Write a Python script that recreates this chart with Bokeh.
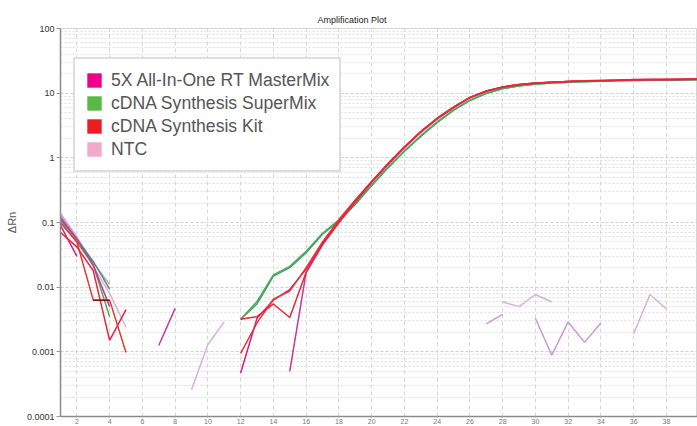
import math
from bokeh.plotting import figure
from bokeh.models import (ColumnDataSource, FixedTicker, Legend, LegendItem, Range1d,
                          CustomJSTickFormatter)
from bokeh.embed import file_html
from bokeh.resources import INLINE

# ---------------- data ----------------
cycles = list(range(1, 41))
x_ticks = list(range(2, 40, 2))
y_ticks = [0.0001, 0.001, 0.01, 0.1, 1, 10, 100]

legend_labels = ["5X All-In-One RT MasterMix", "cDNA Synthesis SuperMix", "cDNA Synthesis Kit", "NTC"]
legend_colors = ["#EC008C", "#5AB946", "#ED1C24", "#F2A9CB"]

# NTC traces (cycle: ΔRn)
ntc_a = {1: 0.14, 2: 0.06, 3: 0.021, 4: 0.008, 5: 0.0024,
         9: 0.00026, 10: 0.0013, 11: 0.0029,
         28: 0.0059, 29: 0.005, 30: 0.0077, 31: 0.0059,
         36: 0.0019, 37: 0.0077, 38: 0.0046}
ntc_b = {1: 0.13, 2: 0.058, 3: 0.024, 4: 0.011,
         27: 0.0027, 28: 0.0038,
         30: 0.0033, 31: 0.00089, 32: 0.0029, 33: 0.0014, 34: 0.0028}
ntc_c = {7: 0.00125, 8: 0.0047}

# cDNA Synthesis SuperMix replicates
sm_1 = {1: 0.11, 2: 0.055, 3: 0.025, 4: 0.0093,
        12: 0.0032, 13: 0.0055, 14: 0.0148, 15: 0.020, 16: 0.034, 17: 0.066, 18: 0.105,
        19: 0.19, 20: 0.37, 21: 0.70, 22: 1.25, 23: 2.15, 24: 3.5, 25: 5.4, 26: 7.7,
        27: 9.9, 28: 11.7, 29: 12.9, 30: 13.7, 31: 14.3, 32: 14.7, 33: 15.0, 34: 15.3,
        35: 15.5, 36: 15.7, 37: 15.8, 38: 15.9, 39: 16.0, 40: 16.1}
sm_2 = {1: 0.10, 2: 0.05, 3: 0.022, 4: 0.0035,
        12: 0.0032, 13: 0.006, 14: 0.0155, 15: 0.021, 16: 0.036, 17: 0.068, 18: 0.11,
        19: 0.20, 20: 0.38, 21: 0.72, 22: 1.28, 23: 2.2, 24: 3.6, 25: 5.5, 26: 7.8,
        27: 10.0, 28: 11.8, 29: 13.0, 30: 13.8, 31: 14.4, 32: 14.8, 33: 15.1, 34: 15.4,
        35: 15.6, 36: 15.8, 37: 15.9, 38: 16.0, 39: 16.1, 40: 16.2}

# 5X All-In-One RT MasterMix replicates
mm_1 = {1: 0.09, 2: 0.03,
        12: 0.00047, 13: 0.0033, 14: 0.0063, 15: 0.0092, 16: 0.019, 17: 0.048, 18: 0.11,
        19: 0.22, 20: 0.43, 21: 0.81, 22: 1.47, 23: 2.55, 24: 4.1, 25: 6.1, 26: 8.6,
        27: 10.8, 28: 12.5, 29: 13.6, 30: 14.3, 31: 14.8, 32: 15.2, 33: 15.5, 34: 15.7,
        35: 15.9, 36: 16.2, 37: 16.3, 38: 16.3, 39: 16.4, 40: 16.5}
mm_2 = {1: 0.12, 2: 0.055, 3: 0.022, 4: 0.005,
        15: 0.0005, 16: 0.017, 17: 0.045, 18: 0.10,
        19: 0.21, 20: 0.42, 21: 0.79, 22: 1.43, 23: 2.5, 24: 4.0, 25: 6.0, 26: 8.5,
        27: 10.7, 28: 12.4, 29: 13.5, 30: 14.2, 31: 14.7, 32: 15.1, 33: 15.4, 34: 15.6,
        35: 15.8, 36: 16.1, 37: 16.2, 38: 16.2, 39: 16.3, 40: 16.4}

# cDNA Synthesis Kit replicates
kit_1 = {1: 0.07, 2: 0.042, 3: 0.018, 4: 0.0015, 5: 0.0045,
         12: 0.0032, 13: 0.0035, 14: 0.0055, 15: 0.0034, 16: 0.017, 17: 0.046, 18: 0.10,
         19: 0.21, 20: 0.42, 21: 0.80, 22: 1.45, 23: 2.5, 24: 4.0, 25: 6.0, 26: 8.5,
         27: 10.7, 28: 12.4, 29: 13.5, 30: 14.2, 31: 14.7, 32: 15.1, 33: 15.4, 34: 15.6,
         35: 15.8, 36: 16.0, 37: 16.1, 38: 16.2, 39: 16.3, 40: 16.4}
kit_2 = {1: 0.10, 2: 0.05, 3: 0.0063, 4: 0.0063, 5: 0.00098,
         12: 0.00095, 13: 0.0028, 14: 0.0065, 15: 0.0087, 16: 0.020, 17: 0.05, 18: 0.11,
         19: 0.22, 20: 0.43, 21: 0.82, 22: 1.48, 23: 2.55, 24: 4.1, 25: 6.1, 26: 8.6,
         27: 10.8, 28: 12.5, 29: 13.6, 30: 14.3, 31: 14.8, 32: 15.2, 33: 15.5, 34: 15.7,
         35: 15.9, 36: 16.1, 37: 16.2, 38: 16.3, 39: 16.4, 40: 16.5}
kit_dark = {3: 0.0063, 4: 0.0063}

traces = [
    (ntc_a, "#d8aee0"), (ntc_b, "#c99ad3"), (ntc_c, "#c03aa6"),
    (sm_1, "#3f9e68"), (sm_2, "#4cab5c"),
    (mm_2, "#c8359f"), (mm_1, "#e0197f"),
    (kit_2, "#e23a2e"), (kit_1, "#ec2438"), (kit_dark, "#7a1414"),
]

# ---------------- figure ----------------
p = figure(width=697, height=426, x_range=Range1d(1, 39.9), y_range=Range1d(0.0001, 100),
           y_axis_type="log", output_backend="svg", toolbar_location=None,
           min_border_left=60, min_border_right=0, min_border_top=28, min_border_bottom=10,
           title="Amplification Plot")
p.background_fill_color = "white"
p.border_fill_color = "white"
p.outline_line_color = "#d4d4d4"

p.title.text_font = "Liberation Sans"
p.title.text_font_size = "9px"
p.title.text_font_style = "normal"
p.title.text_color = "#222222"
p.title.align = "left"
p.title.offset = 257
p.title.standoff = 8

N = float("nan")
for d, col in traces:
    ys = [d.get(c, N) for c in cycles]
    p.line(x=cycles, y=ys, line_color=col, line_width=1.5)

# axes
p.xaxis.ticker = FixedTicker(ticks=x_ticks, minor_ticks=[])
p.xaxis.major_label_text_font_size = "7px"
p.xaxis.major_label_text_color = "#777777"
p.xaxis.major_label_text_font = "Liberation Sans"
p.xaxis.major_tick_out = 1
p.xaxis.major_tick_in = 0
p.xaxis.major_label_standoff = 1
p.xaxis.axis_line_color = "#8a8a8a"
p.xaxis.axis_line_width = 1.5
p.xaxis.major_tick_line_color = "#aaaaaa"

minor = [k * 10.0 ** e for e in range(-4, 2) for k in range(2, 10)]
p.yaxis.ticker = FixedTicker(ticks=y_ticks, minor_ticks=minor)
p.yaxis.formatter = CustomJSTickFormatter(
    code="return tick >= 1 ? tick.toFixed(0) : tick.toPrecision(1);")
p.yaxis.major_label_text_font_size = "9px"
p.yaxis.major_label_text_color = "#333333"
p.yaxis.major_label_text_font = "Liberation Sans"
p.yaxis.major_tick_out = 4
p.yaxis.major_tick_in = 0
p.yaxis.minor_tick_line_color = None
p.yaxis.major_label_standoff = 2
p.yaxis.axis_line_color = "#8a8a8a"
p.yaxis.axis_line_width = 1.5
p.yaxis.major_tick_line_color = "#999999"
p.yaxis.axis_label = "ΔRn"
p.yaxis.axis_label_text_font = "Liberation Sans"
p.yaxis.axis_label_text_font_size = "11px"
p.yaxis.axis_label_text_font_style = "normal"
p.yaxis.axis_label_text_color = "#555555"
p.yaxis.axis_label_standoff = 6

# grids
p.xgrid.ticker = FixedTicker(ticks=x_ticks)
p.xgrid.grid_line_color = "#d6d6d6"
p.xgrid.grid_line_dash = "4 3"
p.ygrid.grid_line_color = "#cfcfcf"
p.ygrid.grid_line_dash = "3 2"
p.ygrid.minor_grid_line_color = "#dedede"
p.ygrid.minor_grid_line_dash = "2 2"

# legend (square swatches; swatch quads sit outside the visible range)
items = []
for lab, col in zip(legend_labels, legend_colors):
    r = p.quad(left=[-6], right=[-5], top=[1e-7], bottom=[1e-8], fill_color=col, line_color=None)
    items.append(LegendItem(label=lab, renderers=[r]))
legend = Legend(items=items, location=(13, 244))
legend.border_line_color = "#bdbdbd"
legend.border_line_width = 2
legend.background_fill_color = "white"
legend.background_fill_alpha = 1.0
legend.padding = 10
legend.spacing = 1
legend.margin = 0
legend.glyph_width = 18
legend.glyph_height = 18
legend.label_height = 22
legend.label_standoff = 8
legend.label_text_font = "Liberation Sans"
legend.label_text_font_size = "17.6px"
legend.label_text_color = "#555555"
p.add_layout(legend)

open("out.html", "w").write(file_html(p, INLINE))
